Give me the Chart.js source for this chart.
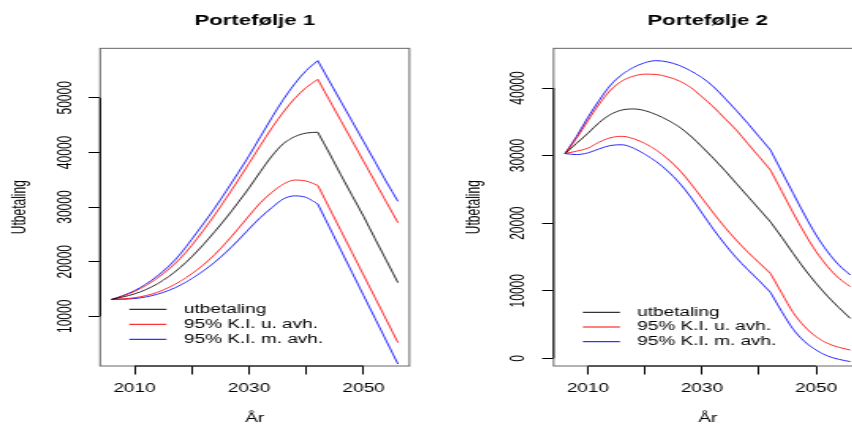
<!DOCTYPE html>
<html>
<head>
<meta charset="utf-8">
<title>Portefølje 1 og 2</title>
<script src="https://cdn.jsdelivr.net/npm/chart.js@4/dist/chart.umd.min.js"></script>
<style>
  html, body { margin: 0; padding: 0; background: #fff; overflow: hidden; }
  #wrap { position: relative; width: 852px; height: 426px; overflow: hidden; }
  canvas { position: absolute; top: 0; }
</style>
</head>
<body>
<div id="wrap">
  <!-- canvases are drawn narrow and stretched sideways -->
  <canvas id="p1" width="270" height="426" style="left:0; width:426.6px; height:426px;"></canvas>
  <canvas id="p2" width="285" height="426" style="left:426px; width:450.3px; height:426px;"></canvas>
</div>
<script>
const years = [2006, 2008, 2010, 2012, 2014, 2016, 2018, 2020, 2022, 2024, 2026, 2028, 2030,
               2032, 2034, 2036, 2038, 2040, 2042, 2044, 2046, 2048, 2050, 2052, 2054, 2056];
// payouts start in this year, the curves break there
const breakYear = 2042;

// Portefølje 1
const p1Utbetaling = [13100, 13550, 14100, 14900, 15950, 17300, 18950, 20900, 23100, 25500, 28000, 30700, 33500,
                      36500, 39350, 41600, 42900, 43550, 43700, 39900, 35950, 32100, 28300, 24200, 20200, 16160];
const p1RedHigh = [13100, 13750, 14550, 15650, 17000, 18650, 20600, 23000, 25700, 28550, 31600, 34750, 38000,
                   41300, 44500, 47400, 49900, 51900, 53380, 49630, 45880, 42130, 38380, 34630, 30880, 27140];
const p1BlueHigh = [13100, 13800, 14700, 15900, 17400, 19200, 21400, 24100, 26900, 29800, 32900, 36100, 39400,
                    42900, 46400, 49700, 52600, 55000, 56800, 53100, 49400, 45700, 42000, 38300, 34600, 31050];
const p1RedLow = [13100, 13200, 13400, 13800, 14400, 15300, 16400, 17800, 19400, 21300, 23500, 25900, 28400,
                  30800, 32700, 34200, 34950, 34750, 33980, 29870, 25760, 21650, 17540, 13430, 9320, 5180];
const p1BlueLow = [13100, 13130, 13250, 13550, 14050, 14750, 15700, 16900, 18300, 19900, 21750, 23800, 26000,
                   28100, 29900, 31500, 32050, 31750, 30560, 26380, 22190, 18010, 13820, 9640, 5460, 1275];

// Portefølje 2
const p2Utbetaling = [30300, 31800, 33300, 34900, 36100, 36750, 36900, 36650, 36050, 35250, 34250, 32900, 31300,
                      29600, 27800, 25900, 24000, 22100, 20200, 17900, 15500, 13200, 11100, 9200, 7500, 5900];
const p2RedHigh = [30300, 32550, 35150, 37650, 39700, 41050, 41750, 42050, 42000, 41650, 41050, 40100, 38700,
                   37200, 35500, 33800, 31800, 29850, 27870, 24700, 21500, 18500, 15800, 13600, 11850, 10600];
const p2BlueHigh = [30300, 32800, 35650, 38200, 40450, 42000, 43050, 43750, 44050, 43850, 43350, 42550, 41550,
                    40200, 38500, 36700, 34800, 32800, 30830, 27600, 24400, 21200, 18250, 15800, 13800, 12330];
const p2RedLow = [30300, 30650, 31100, 32000, 32650, 32850, 32500, 31800, 30800, 29500, 27900, 25900, 23700,
                  21500, 19400, 17500, 15750, 14150, 12580, 9620, 6760, 4690, 3210, 2220, 1630, 1230];
const p2BlueLow = [30300, 30150, 30400, 31000, 31500, 31600, 31100, 30200, 29100, 27700, 26000, 23900, 21500,
                   19100, 16900, 14900, 13150, 11500, 9770, 6900, 4290, 2470, 1230, 350, -150, -490];

const xTicks = [2010, 2020, 2030, 2040, 2050];
const xLabels = [2010, 2030, 2050];
const p1YTicks = [10000, 20000, 30000, 40000, 50000];
const p2YTicks = [0, 10000, 20000, 30000, 40000];
const seriesNames = ['utbetaling', '95% K.I. u. avh.', '95% K.I. m. avh.'];
const seriesColors = ['#000000', '#ff0000', '#0000ff'];

const FONT = "'Liberation Sans', Arial, Helvetica, sans-serif";

// box round the plot, axis lines between the outer ticks, and the legend
const rFrame = {
  id: 'rFrame',
  afterDraw(chart, args, o) {
    const { ctx, chartArea: a, scales: { x, y } } = chart;
    ctx.save();
    ctx.lineWidth = 1;
    ctx.strokeStyle = '#666';
    ctx.strokeRect(a.left, a.top, a.right - a.left, a.bottom - a.top);

    ctx.strokeStyle = '#000';
    ctx.beginPath();
    ctx.moveTo(x.getPixelForValue(xTicks[0]), a.bottom);
    ctx.lineTo(x.getPixelForValue(xTicks[xTicks.length - 1]), a.bottom);
    ctx.moveTo(a.left, y.getPixelForValue(o.yTicks[0]));
    ctx.lineTo(a.left, y.getPixelForValue(o.yTicks[o.yTicks.length - 1]));
    ctx.stroke();

    ctx.font = '12px ' + FONT;
    ctx.textBaseline = 'middle';
    ctx.textAlign = 'left';
    ctx.fillStyle = '#000';
    seriesNames.forEach((name, i) => {
      const ly = a.bottom + o.legendTop + i * o.legendGap;
      ctx.strokeStyle = seriesColors[i];
      ctx.beginPath();
      ctx.moveTo(a.left + 18.5, ly);
      ctx.lineTo(a.left + 42, ly);
      ctx.stroke();
      ctx.fillText(name, a.left + 53, ly);
    });
    ctx.restore();
  }
};

// one smooth piece up to the break year and one after it, so the corner stays sharp
function lines(values, color) {
  const pts = years.map((yr, i) => ({ x: yr, y: values[i] }));
  const style = {
    borderColor: color,
    borderWidth: 0.85,
    pointRadius: 0,
    cubicInterpolationMode: 'monotone',
    fill: false
  };
  return [
    Object.assign({ data: pts.filter(p => p.x <= breakYear) }, style),
    Object.assign({ data: pts.filter(p => p.x >= breakYear) }, style)
  ];
}

function panel(id, title, series, yMin, yMax, yTicks, padLeft, padRight, legendTop, legendGap) {
  const axisFont = { family: FONT, size: 12 };
  const colorOf = [0, 1, 2, 1, 2];
  new Chart(document.getElementById(id), {
    type: 'line',
    data: {
      datasets: series.flatMap((s, i) => lines(s, seriesColors[colorOf[i]]))
    },
    plugins: [rFrame],
    options: {
      responsive: false,
      devicePixelRatio: 1,
      animation: false,
      layout: { padding: { left: padLeft, right: padRight, top: 0, bottom: 0 } },
      plugins: {
        legend: { display: false },
        tooltip: { enabled: false },
        title: {
          display: true,
          text: title,
          fullSize: false,
          color: '#000',
          font: { family: FONT, size: 14, weight: 'bold' },
          padding: { top: 12.75, bottom: 18.78 }
        },
        rFrame: { yTicks: yTicks, legendTop: legendTop, legendGap: legendGap }
      },
      scales: {
        x: {
          type: 'linear',
          min: 2004,
          max: 2058,
          afterBuildTicks: s => { s.ticks = xTicks.map(v => ({ value: v })); },
          afterFit: s => { s.height = 60; },
          grid: { drawOnChartArea: false, drawTicks: true, tickLength: 8.5, color: '#000' },
          border: { display: false },
          ticks: {
            autoSkip: false, maxRotation: 0, padding: 6.6, color: '#000', font: axisFont,
            callback: v => xLabels.includes(v) ? String(v) : ''
          },
          title: { display: true, text: 'År', color: '#000', font: axisFont, padding: { top: 0, bottom: 0.5 } }
        },
        y: {
          min: yMin,
          max: yMax,
          afterBuildTicks: s => { s.ticks = yTicks.map(v => ({ value: v })); },
          afterFit: s => { s.width = 63.29; },
          grid: { drawOnChartArea: false, drawTicks: true, tickLength: 7.3, color: '#000' },
          border: { display: false },
          ticks: {
            autoSkip: false, minRotation: 90, maxRotation: 90, crossAlign: 'center', padding: -2.3,
            color: '#000', font: axisFont, callback: v => String(v)
          },
          title: { display: true, text: 'Utbetaling', color: '#000', font: axisFont, padding: { top: 5.5, bottom: 0 } }
        }
      }
    }
  });
}

panel('p1', 'Portefølje 1', [p1Utbetaling, p1RedHigh, p1BlueHigh, p1RedLow, p1BlueLow],
      908, 59058, p1YTicks, 0, 11.14, -56.7, 15);
panel('p2', 'Portefølje 2', [p2Utbetaling, p2RedHigh, p2BlueHigh, p2RedLow, p2BlueLow],
      -1135, 45872, p2YTicks, 17.53, 9.05, -53.7, 14.7);
</script>
</body>
</html>
